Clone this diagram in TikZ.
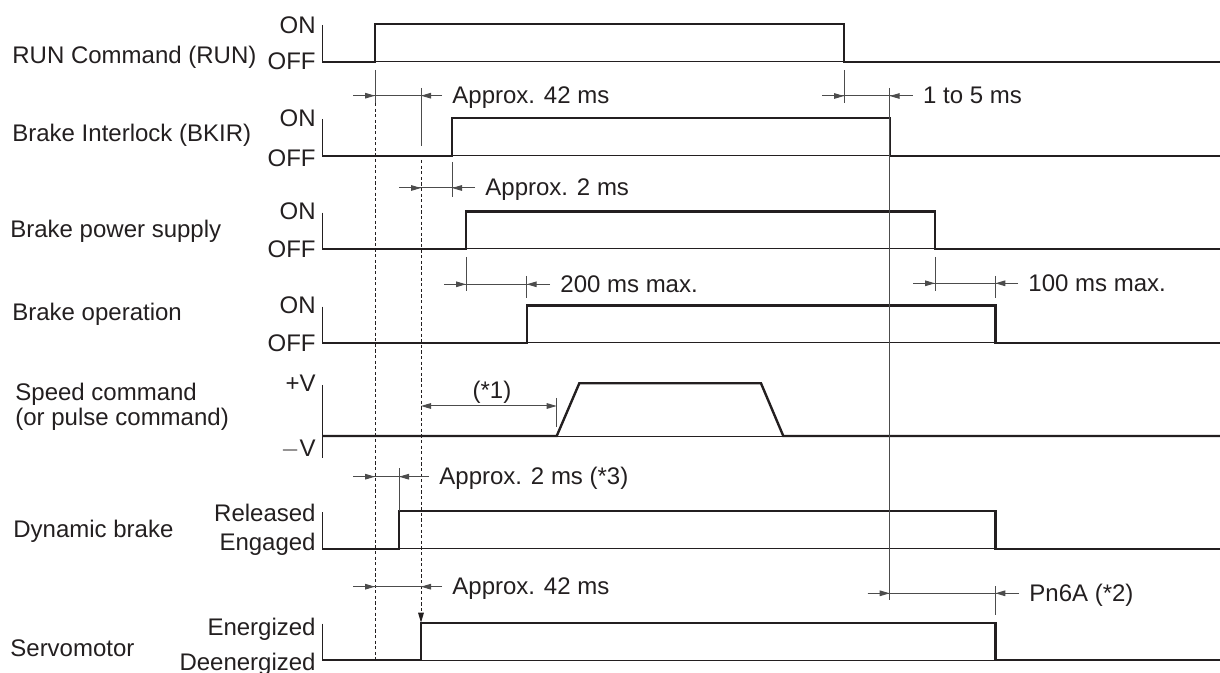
\documentclass[tikz,border=0pt]{standalone}
\usepackage{fontspec}
\setmainfont{Liberation Sans}
\usetikzlibrary{arrows.meta}
\definecolor{ink}{HTML}{231F20}

\begin{document}
\begin{tikzpicture}[x=0.5pt,y=-0.5pt,font=\fontsize{12}{14}\selectfont,
  >={Triangle[length=5pt,width=2.8pt]},
  sig/.style={ink,line width=1.2pt},
  base/.style={ink,line width=0.5pt},
  dim/.style={black!70,line width=0.5pt},
  guide/.style={ink,line width=0.5pt,dash pattern=on 1.6pt off 1.2pt},
  lvl/.style={anchor=base east,inner sep=0pt,text=ink},
  rowlbl/.style={anchor=base west,inner sep=0pt,text=ink},
  note/.style={anchor=base west,inner sep=0pt,text=ink}]
\useasboundingbox (0,0) rectangle (1220,673);

\foreach \on/\off/\r/\f [count=\i] in {24/62/375/844, 118/156/452/889.7,
  211.7/249/466/935, 305.7/343/526.7/995.3, 511/548.7/399/995.3, 622.7/660/421/995.3} {
  \draw[base] (322,\on+1) -- (322,\off) -- (1220,\off);
  \draw[sig] (322,\off) -- (\r,\off) -- (\r,\on) -- (\f,\on) -- (\f,\off) -- (1220,\off);
}
\draw[base] (322,385) -- (322,458);
\draw[base] (322,436) -- (1220,436);
\draw[sig] (322,436) -- (556.7,436) -- (579.3,383.3) -- (761,383.3) -- (783.3,436) -- (1220,436);

\node[rowlbl] (run)  at (12,63.3)  {RUN Command (RUN)};
\node[rowlbl] (bkir) at (12,141.7) {Brake Interlock (BKIR)};
\node[rowlbl] (bps)  at (10,237.5) {Brake power supply};
\node[rowlbl] (bop)  at (12,321)   {Brake operation};
\node[rowlbl] (spd)  at (15,400.7) {Speed command};
\node[rowlbl] (spd2) at (15,425)   {(or pulse command)};
\node[rowlbl] (dyn)  at (13,537.3) {Dynamic brake};
\node[rowlbl] (srv)  at (10,656.7) {Servomotor};

\foreach \t/\y [count=\i] in {ON/33.3, OFF/70, ON/126.7, OFF/166.7, ON/220, OFF/258,
  ON/314, OFF/352, +V/391.7, $-$V/456, Released/521.7, Engaged/550.7,
  Energized/635, Deenergized/670}
  \node[lvl] (l\i) at (316,\y) {\t};

\foreach \x/\ya/\yb in {375/70/103, 421/88/146, 844/70/103, 889.7/88/600,
  452/162/197, 466/257/290.7, 526.7/276/298, 935/257/290.7, 995.3/276/298,
  556.7/398/426.7, 399/468/511, 995.3/586/615}
  \draw[dim] (\x,\ya) -- (\x,\yb);

\draw[guide] (375,103) -- (375,660);
\draw[guide,->] (421,160) -- (421,622.7);

\foreach \y/\a/\b/\t/\s [count=\i] in {95.7/375/421/452/{Approx. 42 ms},
  96/844/889.7/922.7/{1 to 5 ms}, 188/421/452/485/{Approx. 2 ms},
  284.3/466/526.7/560/{200 ms max.}, 283.3/935/995.3/1028/{100 ms max.},
  476.7/375/399/439/{Approx. 2 ms (*3)}, 586.7/375/421/452/{Approx. 42 ms},
  593.3/889.7/995.3/1029/{Pn6A (*2)}} {
  \draw[dim] (\a-22,\y) -- (\t-10,\y);
  \draw[dim,->] (\a-22,\y) -- (\a,\y);
  \draw[dim,->] (\t-10,\y) -- (\b,\y);
  \node[note] (d\i) at (\t,\y+8) {\s};
}
\draw[dim,<->] (421,406) -- (556.7,406);
\node[anchor=base,inner sep=0pt,text=ink] (n1) at (492,399) {(*1)};
\end{tikzpicture}
\end{document}
